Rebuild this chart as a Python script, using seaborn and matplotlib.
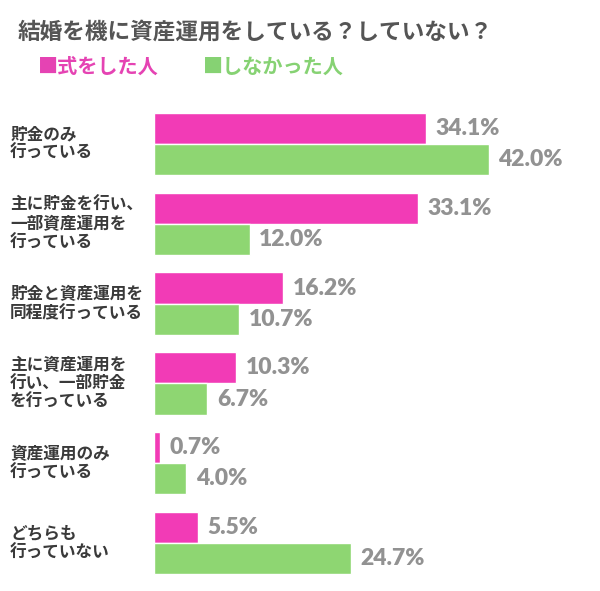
import matplotlib
matplotlib.use("Agg")
import matplotlib.pyplot as plt
import matplotlib.transforms as mtrans
import seaborn as sns
import pandas as pd

#-Chart data
categories = ["貯金のみ\n行っている",
              "主に貯金を行い、\n一部資産運用を\n行っている",
              "貯金と資産運用を\n同程度行っている",
              "主に資産運用を\n行い、一部貯金\nを行っている",
              "資産運用のみ\n行っている",
              "どちらも\n行っていない"]
groups = ["式をした人", "しなかった人"]
held = [34.1, 33.1, 16.2, 10.3, 0.7, 5.5]
not_held = [42.0, 12.0, 10.7, 6.7, 4.0, 24.7]

pink = "#f23bb6"
green = "#8ed672"

df = pd.DataFrame({
    "category": categories * 2,
    "group": [groups[0]] * len(categories) + [groups[1]] * len(categories),
    "value": held + not_held,
})

sns.set_style("white")
plt.rcParams['font.family'] = ['Noto Sans CJK JP', 'DejaVu Sans']

fig = plt.figure(figsize=(6, 5.91), dpi=100)
ax = fig.add_axes([0.2567, 0.0135, 0.7433, 0.8105])

sns.barplot(data=df, y="category", x="value", hue="group", order=categories,
            hue_order=groups, palette=[pink, green], width=0.78,
            orient="h", ax=ax, legend=False, saturation=1)

for cont in ax.containers:
    ax.bar_label(cont, labels=[f"{v:.1f}%" for v in cont.datavalues],
                 padding=7, fontsize=16.5, fontweight="heavy", color="#929292",
                 family=["Lato", "DejaVu Sans"])

ax.set_xlim(0, 56)
ax.set_xlabel("")
ax.set_ylabel("")
ax.set_xticks([])
sns.despine(ax=ax, left=True, bottom=True)
ax.tick_params(axis="y", length=0)
ax.set_yticklabels([])

#-Category labels at the left edge
trans = mtrans.blended_transform_factory(fig.transFigure, ax.transData)
for i, cat in enumerate(categories):
    ax.text(0.017, i, cat, transform=trans, fontsize=12, fontweight="bold",
            color="#3a3a3a", ha="left", va="center", linespacing=1.05)

#-Title and legend texts
fig.text(0.03, 0.945, "結婚を機に資産運用をしている？していない？",
         fontsize=16.3, fontweight="bold", color="#555555", va="center")
fig.text(0.063, 0.888, "■式をした人", fontsize=14.5, fontweight="bold",
         color="#e543b3", va="center")
fig.text(0.338, 0.888, "■しなかった人", fontsize=14.5, fontweight="bold",
         color="#86d273", va="center")

fig.savefig("out.png", dpi=100)
